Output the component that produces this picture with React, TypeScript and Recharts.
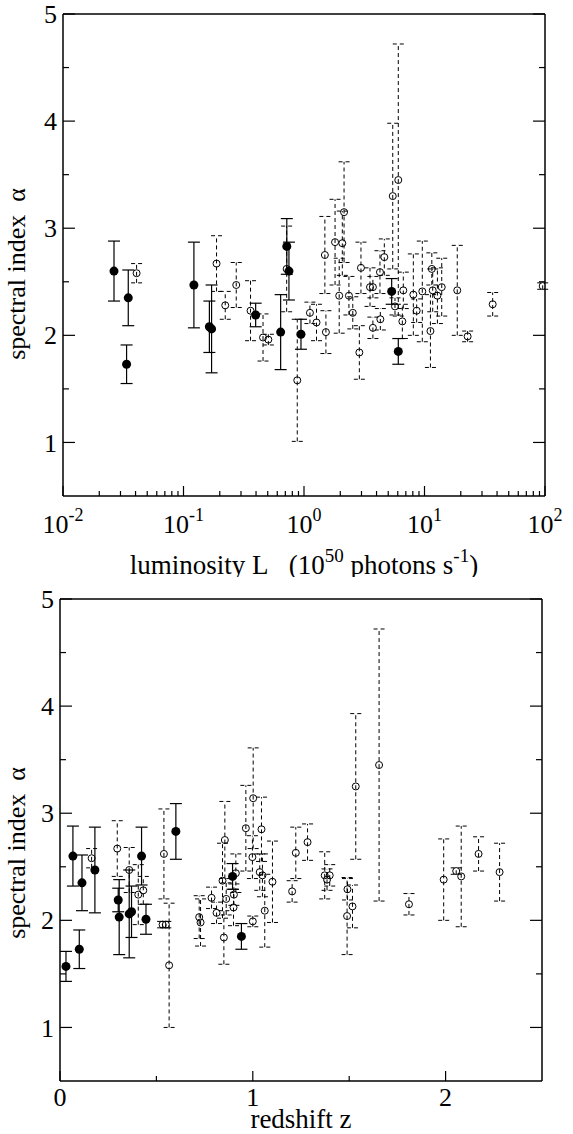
import { ScatterChart, Scatter, XAxis, YAxis, ErrorBar } from 'recharts'

const serif = '"Liberation Serif", serif'
const txt = { fontFamily: serif }

// upper panel: luminosity (10^50 photons/s) vs spectral index
const lumFilled = [0.0265, 0.0348, 0.0337, 0.122, 0.164, 0.171, 0.397, 0.64, 0.72, 0.75, 0.944, 5.34, 6.06]
const alphaLumFilled = [2.6, 2.35, 1.73, 2.47, 2.08, 2.06, 2.19, 2.03, 2.83, 2.6, 2.01, 2.41, 1.85]
const errLumFilled = [0.28, 0.26, 0.18, 0.4, 0.24, 0.41, 0.11, 0.35, 0.26, 0.27, 0.14, 0.12, 0.12]

const lumOpen = [
  0.0408, 0.188, 0.222, 0.274, 0.36, 0.457, 0.506, 0.718, 0.879, 1.12, 1.27, 1.52, 1.49, 1.81, 1.96,
  2.08, 2.15, 2.36, 2.54, 2.88, 2.97, 3.53, 3.73, 3.73, 4.27, 4.3, 4.64, 5.45, 5.69, 6.06, 6.67, 6.55,
  8.08, 8.61, 9.59, 11.2, 11.5, 11.7, 12.8, 13.9, 18.7, 22.8, 36.8, 95.7,
]
const alphaLumOpen = [
  2.58, 2.67, 2.28, 2.47, 2.23, 1.98, 1.96, 2.62, 1.58, 2.21, 2.12, 2.03, 2.75, 2.87, 2.37,
  2.86, 3.15, 2.37, 2.21, 1.84, 2.63, 2.45, 2.45, 2.07, 2.59, 2.15, 2.73, 3.3, 2.27, 3.45, 2.42, 2.13,
  2.38, 2.23, 2.41, 2.04, 2.62, 2.42, 2.37, 2.45, 2.42, 1.99, 2.29, 2.46,
]
const errLumOpen = [
  0.09, 0.26, 0.13, 0.21, 0.28, 0.22, 0.05, 0.4, 0.57, 0.1, 0.17, 0.2, 0.36, 0.4, 0.35,
  0.3, 0.47, 0.18, 0.15, 0.25, 0.24, 0.18, 0.1, 0.1, 0.2, 0.1, 0.17, 0.68, 0.08, 1.27, 0.17, 0.16,
  0.38, 0.11, 0.47, 0.34, 0.15, 0.2, 0.26, 0.27, 0.42, 0.05, 0.11, 0.03,
]

// lower panel: redshift vs spectral index
const zFilled = [0.031, 0.067, 0.1, 0.114, 0.181, 0.302, 0.307, 0.359, 0.371, 0.423, 0.446, 0.601, 0.895, 0.941]
const alphaZFilled = [1.57, 2.6, 1.73, 2.35, 2.47, 2.19, 2.03, 2.06, 2.08, 2.6, 2.01, 2.83, 2.41, 1.85]
const errZFilled = [0.14, 0.28, 0.18, 0.26, 0.4, 0.11, 0.35, 0.41, 0.24, 0.27, 0.14, 0.26, 0.12, 0.12]

const zOpen = [
  0.164, 0.297, 0.359, 0.406, 0.432, 0.539, 0.532, 0.549, 0.566, 0.722, 0.729, 0.786, 0.812, 0.843,
  0.85, 0.855, 0.862, 0.902, 0.9, 0.912, 0.964, 1.002, 0.998, 1.045, 1.036, 1.05, 1.0, 1.062, 1.102,
  1.204, 1.223, 1.284, 1.373, 1.399, 1.385, 1.491, 1.489, 1.517, 1.534, 1.655, 1.81, 1.99, 2.055,
  2.081, 2.171, 2.28,
]
const alphaZOpen = [
  2.58, 2.67, 2.47, 2.24, 2.28, 2.62, 1.96, 1.96, 1.58, 2.03, 1.98, 2.21, 2.07, 2.37,
  1.84, 2.75, 2.2, 2.24, 2.12, 2.44, 2.86, 3.14, 2.59, 2.85, 2.45, 2.42, 1.99, 2.09, 2.36,
  2.27, 2.63, 2.73, 2.42, 2.42, 2.38, 2.29, 2.04, 2.13, 3.25, 3.45, 2.15, 2.38, 2.46,
  2.41, 2.62, 2.45,
]
const errZOpen = [
  0.09, 0.26, 0.21, 0.28, 0.13, 0.42, 0.03, 0.03, 0.58, 0.2, 0.22, 0.1, 0.1, 0.35,
  0.25, 0.36, 0.15, 0.1, 0.17, 0.18, 0.4, 0.47, 0.2, 0.3, 0.17, 0.2, 0.05, 0.34, 0.38,
  0.1, 0.24, 0.17, 0.22, 0.1, 0.1, 0.1, 0.36, 0.2, 0.68, 1.27, 0.1, 0.38, 0.03,
  0.47, 0.16, 0.27,
]

const lumDecades = [0.01, 0.1, 1, 10, 100]
const lumMinor = lumDecades.slice(0, -1).flatMap((d) => [2, 3, 4, 5, 6, 7, 8, 9].map((m) => +(d * m).toPrecision(3)))
const alphaMajor = [1, 2, 3, 4, 5]
const alphaMinor = [1.5, 2.5, 3.5, 4.5]
const zMajor = [0, 1, 2]
const zMinor = [0.5, 1.5]

const toPoints = (xs: number[], ys: number[], es: number[]) => xs.map((x, i) => ({ x, y: ys[i], err: es[i] }))

const FilledDot = (p: any) => <circle cx={p.cx} cy={p.cy} r={4.5} fill="#000" />
const OpenDot = (p: any) => <circle cx={p.cx} cy={p.cy} r={3.5} fill="none" stroke="#000" strokeWidth={1} />

const Sup = ({ children, up = true }: any) => (
  <tspan dy={up ? -12 : 12} fontSize={up ? 19 : 27} style={txt}>
    {children}
  </tspan>
)

const logLabel = (v: number, x: number, y: number) => (
  <text x={x} y={y + 37} textAnchor="middle" fontSize={26} style={txt} fill="#000">
    <tspan style={txt}>10</tspan>
    <tspan dy={-12} fontSize={18} style={txt}>
      {Math.round(Math.log10(v))}
    </tspan>
  </text>
)
const zLabel = (v: number, x: number, y: number) => (
  <text x={x} y={y + 25} textAnchor="middle" fontSize={26} style={txt} fill="#000">
    {v}
  </text>
)
const yLabel = (v: number, x: number, y: number) => (
  <text x={x - 6} y={y} dy="0.35em" textAnchor="end" fontSize={26} style={txt} fill="#000">
    {v}
  </text>
)

// draws inward tick marks, plus the label for major ticks
const FrameTick = (props: any) => {
  const { x, y, payload, side, majors, fmt } = props
  const v = payload.value
  const major = majors.includes(v)
  const horiz = side === 'bottom' || side === 'top'
  const len = major ? (horiz ? 10 : 12) : horiz ? 5 : 6
  const dir = side === 'bottom' || side === 'right' ? -1 : 1
  return (
    <g>
      {horiz ? (
        <line x1={x} x2={x} y1={y} y2={y + dir * len} stroke="#000" strokeWidth={1.2} />
      ) : (
        <line x1={x} x2={x + dir * len} y1={y} y2={y} stroke="#000" strokeWidth={1.2} />
      )}
      {major && fmt ? fmt(v, x, y) : null}
    </g>
  )
}

const LumTitle = ({ viewBox }: any) => (
  <text x={viewBox.x + viewBox.width / 2} y={viewBox.y + 78} textAnchor="middle" fontSize={27} style={txt} fill="#000">
    <tspan style={txt}>{'luminosity L\u00a0\u00a0\u00a0(10'}</tspan>
    <Sup>50</Sup>
    <Sup up={false}>{'\u00a0photons s'}</Sup>
    <Sup>-1</Sup>
    <Sup up={false}>)</Sup>
  </text>
)
const ZTitle = ({ viewBox }: any) => (
  <text x={viewBox.x + viewBox.width / 2} y={viewBox.y + 47} textAnchor="middle" fontSize={27} style={txt} fill="#000">
    redshift z
  </text>
)
const AlphaTitle = ({ viewBox, shift }: any) => (
  <text
    transform={`translate(25, ${viewBox.y + viewBox.height / 2 + shift}) rotate(-90)`}
    textAnchor="middle"
    fontSize={26}
    style={txt}
    fill="#000"
  >
    {'spectral index\u00a0\u00a0α'}
  </text>
)

const axisLine = { stroke: '#000', strokeWidth: 1.5 }
const alphaTicks = [...alphaMajor, ...alphaMinor]

export default function App() {
  return (
    <div style={{ position: 'absolute', left: 0, top: 0, width: 573, height: 1134, background: '#fff', fontFamily: serif }}>
      <ScatterChart width={573} height={577} margin={{ top: 0, right: 0, bottom: 0, left: 0 }}>
        <XAxis
          xAxisId="b"
          type="number"
          dataKey="x"
          scale="log"
          domain={[0.01, 100]}
          allowDataOverflow
          ticks={[...lumDecades, ...lumMinor]}
          interval={0}
          height={81}
          tickSize={0}
          tickMargin={0}
          tickLine={false}
          axisLine={axisLine}
          tick={<FrameTick side="bottom" majors={lumDecades} fmt={logLabel} />}
          label={<LumTitle />}
        />
        <XAxis
          xAxisId="t"
          orientation="top"
          type="number"
          scale="log"
          domain={[0.01, 100]}
          allowDataOverflow
          ticks={[...lumDecades, ...lumMinor]}
          interval={0}
          height={14}
          tickSize={0}
          tickMargin={0}
          tickLine={false}
          axisLine={axisLine}
          tick={<FrameTick side="top" majors={lumDecades} />}
        />
        <YAxis
          yAxisId="l"
          type="number"
          dataKey="y"
          domain={[0.5, 5]}
          allowDataOverflow
          ticks={alphaTicks}
          interval={0}
          width={63}
          tickSize={0}
          tickMargin={0}
          tickLine={false}
          axisLine={axisLine}
          tick={<FrameTick side="left" majors={alphaMajor} fmt={yLabel} />}
          label={<AlphaTitle shift={19} />}
        />
        <YAxis
          yAxisId="r"
          orientation="right"
          type="number"
          domain={[0.5, 5]}
          allowDataOverflow
          ticks={alphaTicks}
          interval={0}
          width={28}
          tickSize={0}
          tickMargin={0}
          tickLine={false}
          axisLine={axisLine}
          tick={<FrameTick side="right" majors={alphaMajor} />}
        />
        <Scatter
          xAxisId="b"
          yAxisId="l"
          data={toPoints(lumOpen, alphaLumOpen, errLumOpen)}
          shape={OpenDot}
          isAnimationActive={false}
        >
          <ErrorBar dataKey="err" direction="y" width={5.5} stroke="#000" strokeWidth={1} strokeDasharray="4 3" />
        </Scatter>
        <Scatter
          xAxisId="b"
          yAxisId="l"
          data={toPoints(lumFilled, alphaLumFilled, errLumFilled)}
          shape={FilledDot}
          isAnimationActive={false}
        >
          <ErrorBar dataKey="err" direction="y" width={6} stroke="#000" strokeWidth={1.2} />
        </Scatter>
      </ScatterChart>

      <ScatterChart width={573} height={557} margin={{ top: 0, right: 0, bottom: 0, left: 0 }}>
        <XAxis
          xAxisId="b"
          type="number"
          dataKey="x"
          domain={[0, 2.5]}
          allowDataOverflow
          ticks={[...zMajor, ...zMinor]}
          interval={0}
          height={53}
          tickSize={0}
          tickMargin={0}
          tickLine={false}
          axisLine={axisLine}
          tick={<FrameTick side="bottom" majors={zMajor} fmt={zLabel} />}
          label={<ZTitle />}
        />
        <XAxis
          xAxisId="t"
          orientation="top"
          type="number"
          domain={[0, 2.5]}
          allowDataOverflow
          ticks={[...zMajor, ...zMinor]}
          interval={0}
          height={22}
          tickSize={0}
          tickMargin={0}
          tickLine={false}
          axisLine={axisLine}
          tick={<FrameTick side="top" majors={zMajor} />}
        />
        <YAxis
          yAxisId="l"
          type="number"
          dataKey="y"
          domain={[0.5, 5]}
          allowDataOverflow
          ticks={alphaTicks}
          interval={0}
          width={60}
          tickSize={0}
          tickMargin={0}
          tickLine={false}
          axisLine={axisLine}
          tick={<FrameTick side="left" majors={alphaMajor} fmt={yLabel} />}
          label={<AlphaTitle shift={13} />}
        />
        <YAxis
          yAxisId="r"
          orientation="right"
          type="number"
          domain={[0.5, 5]}
          allowDataOverflow
          ticks={alphaTicks}
          interval={0}
          width={31}
          tickSize={0}
          tickMargin={0}
          tickLine={false}
          axisLine={axisLine}
          tick={<FrameTick side="right" majors={alphaMajor} />}
        />
        <Scatter
          xAxisId="b"
          yAxisId="l"
          data={toPoints(zOpen, alphaZOpen, errZOpen)}
          shape={OpenDot}
          isAnimationActive={false}
        >
          <ErrorBar dataKey="err" direction="y" width={5.5} stroke="#000" strokeWidth={1} strokeDasharray="4 3" />
        </Scatter>
        <Scatter
          xAxisId="b"
          yAxisId="l"
          data={toPoints(zFilled, alphaZFilled, errZFilled)}
          shape={FilledDot}
          isAnimationActive={false}
        >
          <ErrorBar dataKey="err" direction="y" width={6} stroke="#000" strokeWidth={1.2} />
        </Scatter>
      </ScatterChart>
    </div>
  )
}
